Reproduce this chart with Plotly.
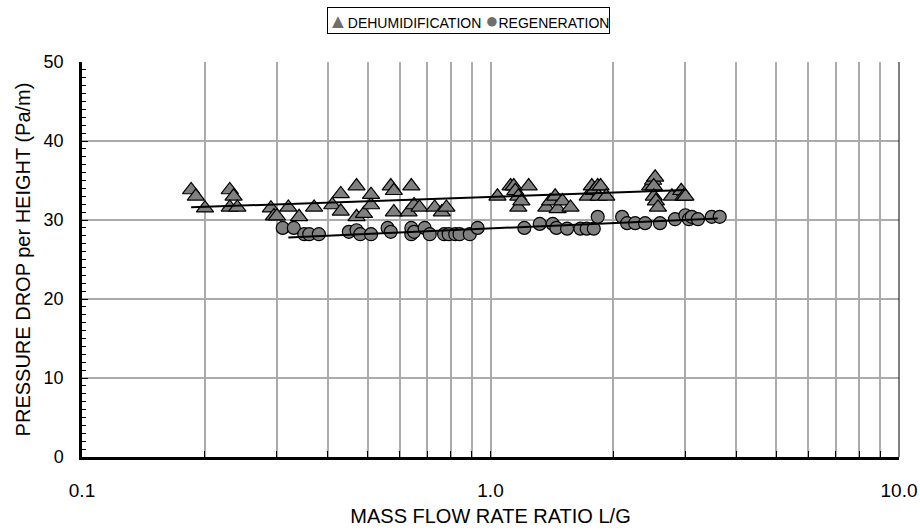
import plotly.graph_objects as go

# Dehumidification runs: L/G ratio vs pressure drop per height (Pa/m)
dehum_lg = [0.185, 0.19, 0.20, 0.23, 0.235, 0.23, 0.24, 0.29, 0.295, 0.30, 0.32, 0.34,
            0.37, 0.41, 0.43, 0.43, 0.47, 0.47, 0.49, 0.51, 0.51, 0.57, 0.58, 0.58,
            0.64, 0.63, 0.65, 0.67, 0.73, 0.76, 0.78, 1.04, 1.12, 1.14, 1.15, 1.17,
            1.17, 1.19, 1.24, 1.37, 1.40, 1.44, 1.46, 1.50, 1.57, 1.73, 1.77, 1.79,
            1.83, 1.84, 1.86, 1.92, 2.46, 2.50, 2.53, 2.51, 2.51, 2.54, 2.57, 2.78,
            2.93, 2.97, 3.00]
dehum_dp = [33.8, 33.0, 31.5, 33.8, 33.0, 31.6, 31.6, 31.5, 30.5, 30.5, 31.6, 30.4,
            31.6, 31.9, 33.3, 31.1, 34.3, 30.4, 30.8, 31.9, 33.2, 34.3, 33.7, 31.0,
            34.3, 31.0, 31.9, 31.6, 31.6, 31.0, 31.6, 33.0, 34.3, 34.3, 33.7, 33.0,
            31.6, 32.4, 34.3, 31.6, 32.4, 33.0, 31.4, 32.4, 31.6, 33.0, 34.3, 33.7,
            34.3, 33.0, 34.3, 33.0, 34.3, 35.0, 35.4, 34.3, 33.0, 32.4, 31.6, 33.0,
            33.7, 33.0, 33.0]

# Regeneration runs
regen_lg = [0.31, 0.33, 0.35, 0.36, 0.38, 0.45, 0.47, 0.48, 0.51, 0.56, 0.57, 0.64,
            0.64, 0.65, 0.69, 0.71, 0.77, 0.79, 0.82, 0.84, 0.89, 0.93, 1.21, 1.32,
            1.42, 1.45, 1.54, 1.66, 1.72, 1.79, 1.83, 2.10, 2.16, 2.26, 2.39, 2.60,
            2.83, 3.00, 3.06, 3.11, 3.22, 3.48, 3.64]
regen_dp = [29.0, 29.0, 28.2, 28.2, 28.2, 28.5, 28.7, 28.2, 28.2, 29.0, 28.5, 28.2,
            29.0, 28.5, 29.0, 28.2, 28.2, 28.2, 28.2, 28.2, 28.2, 29.0, 29.0, 29.5,
            29.5, 29.0, 28.9, 28.9, 28.9, 28.9, 30.4, 30.4, 29.6, 29.6, 29.6, 29.6,
            30.1, 30.6, 30.1, 30.4, 30.1, 30.4, 30.4]

# Trend-line end points
dehum_fit_lg = [0.185, 3.0]
dehum_fit_dp = [31.6, 33.8]
regen_fit_lg = [0.32, 3.6]
regen_fit_dp = [27.8, 30.2]

# Log-axis ticks: every 1..9 multiple gets a grid line, only decades are labelled
x_tickvals = [m * d for d in (0.1, 1.0) for m in range(1, 10)] + [10.0]
x_ticktext = ["0.1" if v == 0.1 else "1.0" if v == 1.0 else "10.0" if v == 10.0 else ""
              for v in x_tickvals]
y_tickvals = [0, 10, 20, 30, 40, 50]

series_names = ["DEHUMIDIFICATION", "REGENERATION"]

FONT = "Liberation Sans, Arial, sans-serif"
GRID = "#ababab"
MARK = "#808080"

fig = go.Figure()

fig.add_trace(go.Scatter(
    x=dehum_lg, y=dehum_dp, mode="markers", name=series_names[0],
    marker=dict(symbol="triangle-up", size=15, color=MARK,
                line=dict(color="black", width=1.2)),
))
fig.add_trace(go.Scatter(
    x=regen_lg, y=regen_dp, mode="markers", name=series_names[1],
    marker=dict(symbol="circle", size=13, color=MARK,
                line=dict(color="black", width=1.2)),
))
fig.add_trace(go.Scatter(
    x=dehum_fit_lg, y=dehum_fit_dp, mode="lines",
    line=dict(color="black", width=2),
))
fig.add_trace(go.Scatter(
    x=regen_fit_lg, y=regen_fit_dp, mode="lines",
    line=dict(color="black", width=2),
))

fig.update_layout(
    width=920, height=531,
    margin=dict(l=82, r=21, t=62, b=74, autoexpand=False),
    paper_bgcolor="white", plot_bgcolor="white",
    font=dict(family=FONT, color="black", size=16),
    showlegend=False,
)

# Compact boxed key above the plot
legend_text = (
    f"<span style=\"font-size:20px;color:#6e6e6e\">▲</span>{series_names[0]} "
    f"<span style=\"font-size:22px;color:#6e6e6e\">●</span>{series_names[1]}"
)
fig.add_annotation(
    xref="paper", yref="paper", x=0.473, y=1.104,
    xanchor="center", yanchor="middle", showarrow=False,
    text=legend_text, font=dict(size=14, family=FONT, color="black"),
    bordercolor="black", borderwidth=1, borderpad=0, bgcolor="white",
)

fig.update_xaxes(
    type="log", range=[-1, 1],
    tickvals=x_tickvals, ticktext=x_ticktext,
    ticks="inside", ticklen=6, tickwidth=1, tickcolor="black",
    showgrid=True, gridcolor=GRID, gridwidth=1.5,
    showline=True, linecolor="black", linewidth=2.5,
    ticklabelstandoff=14,
    tickfont=dict(size=19),
    title=dict(text="MASS FLOW RATE RATIO L/G", font=dict(size=20), standoff=10),
    zeroline=False, automargin=False,
)
fig.update_yaxes(
    range=[0, 50], tickvals=y_tickvals,
    ticks="inside", ticklen=6, tickwidth=1, tickcolor="black",
    minor=dict(dtick=1, ticks="inside", ticklen=4, tickcolor="black", showgrid=False),
    showgrid=True, gridcolor=GRID, gridwidth=1.5,
    showline=True, linecolor="black", linewidth=2.5,
    ticklabelstandoff=12,
    tickfont=dict(size=18),
    title=dict(text="PRESSURE DROP per HEIGHT (Pa/m)", font=dict(size=20), standoff=8),
    zeroline=False, automargin=False,
)

# Thin frame on the right edge of the plotting area
fig.add_shape(type="line", xref="paper", yref="paper", x0=1, x1=1, y0=0, y1=1,
              line=dict(color="black", width=1))

fig.write_html("out.html")
